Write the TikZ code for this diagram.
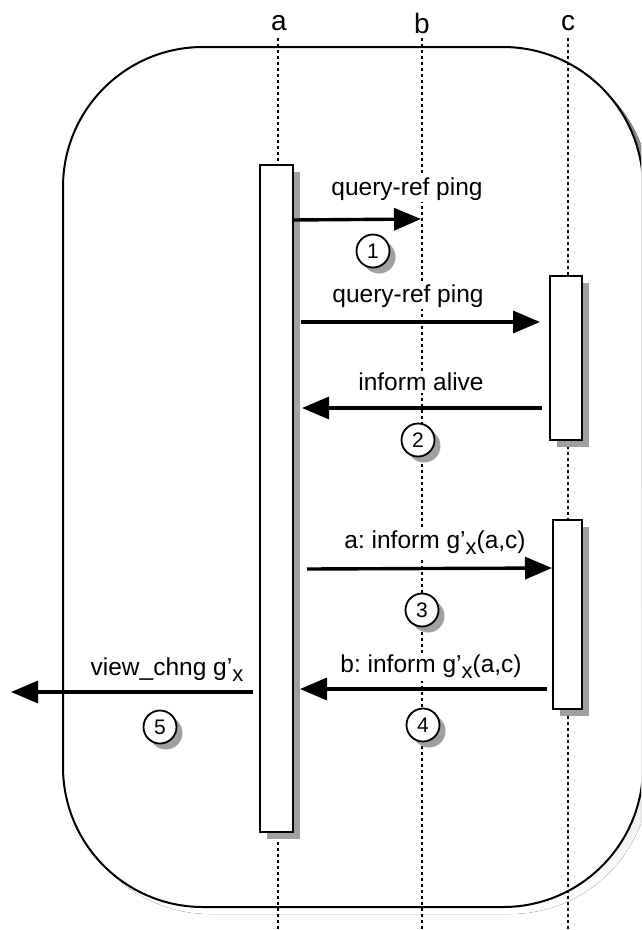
\documentclass[tikz,border=0pt]{standalone}
\usepackage{fontspec}
\setmainfont{Liberation Sans}
\usetikzlibrary{arrows.meta}
\definecolor{shade}{RGB}{160,160,160}
\tikzset{
  lifeline/.style={line width=2pt, dash pattern=on 3pt off 3pt},
  actbar/.style={draw, fill=white, line width=1.8pt},
  barshadow/.style={fill=shade, draw=none},
  msg/.style={line width=3.4pt, -{Triangle[length=27pt,width=22pt]}},
  msglabel/.style={fill=white, inner sep=2pt, font=\fontsize{24.5}{26}\selectfont},
  numcircle/.style={circle, draw, fill=white, line width=1.8pt, minimum size=33pt, inner sep=0pt, font=\fontsize{21}{22}\selectfont},
  numshadow/.style={circle, fill=shade, minimum size=33pt, inner sep=0pt},
  headlabel/.style={font=\fontsize{28}{29}\selectfont}
}
\newcommand{\gsub}{g’{\raisebox{-6pt}{\fontsize{22}{22}\selectfont x}}}
\begin{document}
\frenchspacing
\begin{tikzpicture}[x=1pt,y=-1pt]
\clip (0,0) rectangle (641,930);
\fill[white] (0,0) rectangle (641,930);
% frame
\fill[shade, rounded corners=140pt] (70,54) rectangle (650,914);
\draw[fill=white, line width=2pt, rounded corners=140pt] (63,47) rectangle (643,907);
% lifelines
\node[headlabel] (la) at (279,23) {a};
\node[headlabel] (lb) at (422,23) {b};
\node[headlabel] (lc) at (568,23) {c};
\coordinate (ea) at (278,930);
\coordinate (eb) at (422,930);
\coordinate (ec) at (568,930);
\draw[lifeline] (278,38) -- (ea);
\draw[lifeline] (422,38) -- (eb);
\draw[lifeline] (568,38) -- (ec);
% activation bars
\fill[barshadow] (267,172) rectangle (300,839);
\node[actbar, anchor=north west, minimum width=33pt, minimum height=667pt, inner sep=0pt] (barA) at (259,164) {};
\fill[barshadow] (557,283) rectangle (589,447);
\node[actbar, anchor=north west, minimum width=32pt, minimum height=164pt, inner sep=0pt] (barC1) at (549,275) {};
\fill[barshadow] (560,527) rectangle (589,716);
\node[actbar, anchor=north west, minimum width=29pt, minimum height=189pt, inner sep=0pt] (barC2) at (552,519) {};
% labels
\node[msglabel] (t1) at (407,189) {query-ref ping};
\node[msglabel] (t2) at (408,296) {query-ref ping};
\node[msglabel] (t3) at (421,382) {inform alive};
\node[msglabel] (t4) at (435,543) {a: inform \gsub(a,c)};
\node[msglabel] (t5) at (431,667) {b: inform \gsub(a,c)};
\node[msglabel, fill=none] (t6) at (167,670) {view\_chng \gsub};
% circles
\foreach \n/\x/\y in {1/373/251, 2/418/440, 3/422/610, 4/423/725, 5/160/727}{
  \node[numshadow] at (\x+6,\y+6) {};
  \node[numcircle] (c\n) at (\x,\y) {\n};
}
% messages
\coordinate (s1) at (292,220); \coordinate (e1) at (421,219);
\coordinate (s2) at (301,322); \coordinate (e2) at (540,322);
\coordinate (s3) at (542,408); \coordinate (e3) at (302,408);
\coordinate (s4) at (307,569); \coordinate (e4) at (552,568);
\coordinate (s5) at (547,689); \coordinate (e5) at (300,689);
\coordinate (s6) at (253,692); \coordinate (e6) at (11,692);
\draw[msg] (s1) -- (e1);
\draw[msg] (s2) -- (e2);
\draw[msg] (s3) -- (e3);
\draw[msg] (s4) -- (e4);
\draw[msg] (s5) -- (e5);
\draw[msg] (s6) -- (e6);
\end{tikzpicture}
\end{document}
